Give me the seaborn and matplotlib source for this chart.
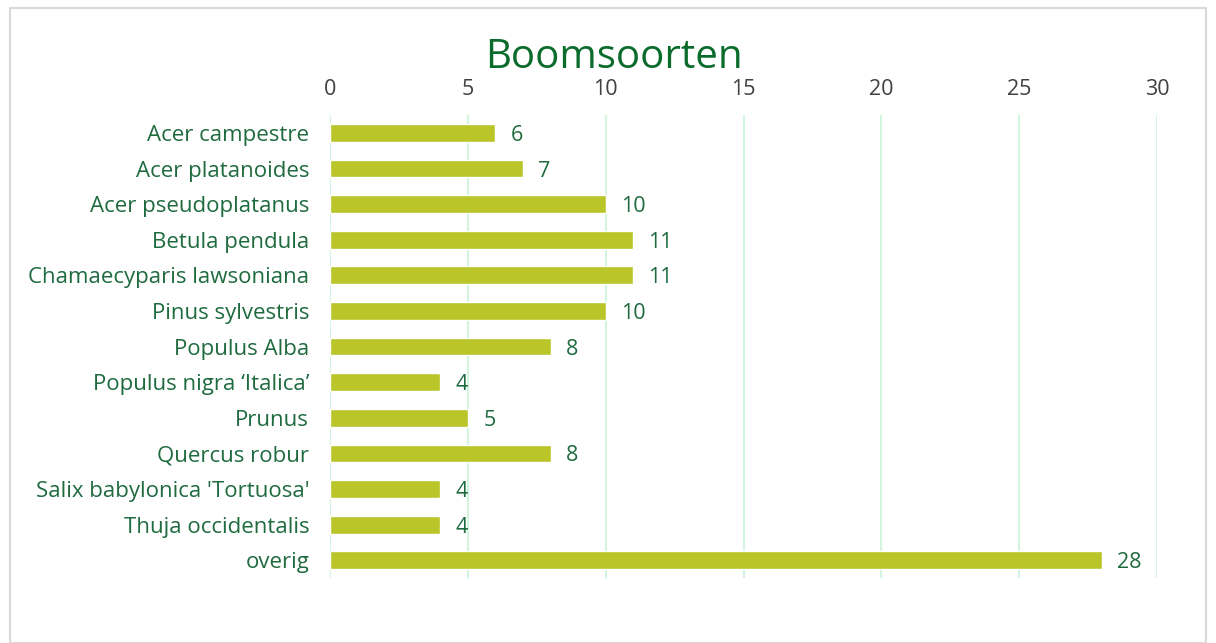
import matplotlib
matplotlib.use('Agg')
import matplotlib.pyplot as plt
import seaborn as sns
import pandas as pd
from matplotlib.patches import Rectangle

# ── Data ─────────────────────────────────────────────────────────────────────
soorten = [
    'Acer campestre', 'Acer platanoides', 'Acer pseudoplatanus',
    'Betula pendula', 'Chamaecyparis lawsoniana', 'Pinus sylvestris',
    'Populus Alba', 'Populus nigra \u2018Italica\u2019', 'Prunus',
    'Quercus robur', "Salix babylonica 'Tortuosa'", 'Thuja occidentalis',
    'overig',
]
aantallen = [6, 7, 10, 11, 11, 10, 8, 4, 5, 8, 4, 4, 28]
x_ticks = [0, 5, 10, 15, 20, 25, 30]

df = pd.DataFrame({'soort': soorten, 'aantal': aantallen})

GREEN_TXT = '#1f6b3f'
BAR = '#b9c528'

sns.set_theme(style='white')
plt.rcParams['font.family'] = ['Open Sans', 'DejaVu Sans']

fig = plt.figure(figsize=(12.16, 6.43), dpi=100)
ax = fig.add_axes([0.2714, 0.101, 0.6801, 0.72])

sns.barplot(data=df, x='aantal', y='soort', color=BAR, width=0.5,
            saturation=1, ax=ax, zorder=3)

ax.set_xlim(0, 30)
ax.set_xticks(x_ticks)
ax.xaxis.tick_top()
ax.tick_params(axis='x', length=0, labelsize=15.5, labelcolor='#404040', pad=11)
ax.tick_params(axis='y', length=0, labelsize=16, labelcolor=GREEN_TXT, pad=15)
ax.grid(axis='x', color='#d2f5de', linewidth=1.5, zorder=0)
ax.set_xlabel('')
ax.set_ylabel('')
for s in ax.spines.values():
    s.set_visible(False)

for c in ax.containers:
    labels = ax.bar_label(c, padding=11, fontsize=15.5, color=GREEN_TXT)
    for t in labels:
        t.set_va('center_baseline')

fig.text(0.505, 0.91, 'Boomsoorten', ha='center', va='center',
         fontsize=29, color='#0b6b2b')

# light grey frame round the chart area
fig.patches.append(Rectangle((10 / 1216, 0.0), 1196 / 1216, 1 - 8 / 643,
                             transform=fig.transFigure, fill=False,
                             edgecolor='#d9d9d9', linewidth=1.5))

fig.savefig('out.png', dpi=100)
